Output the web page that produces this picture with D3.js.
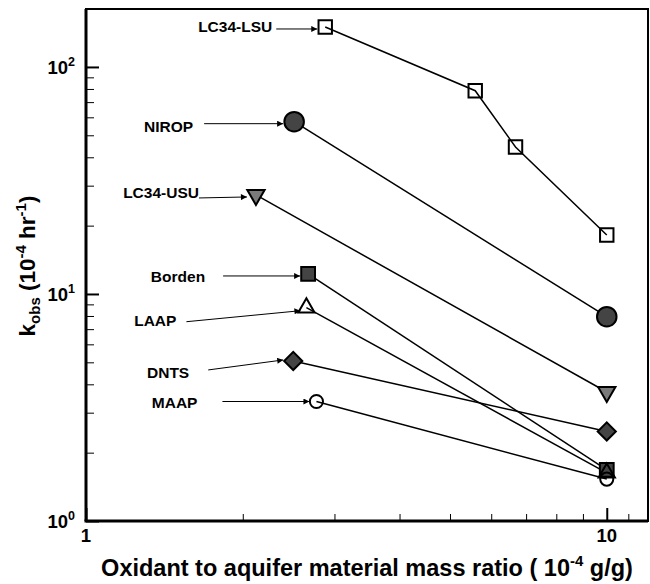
<!DOCTYPE html>
<html>
<head>
<meta charset="utf-8">
<script src="https://cdn.jsdelivr.net/npm/d3@7"></script>
<style>
  body { margin: 0; background: #fff; }
  text { font-family: "Liberation Sans", Arial, sans-serif; font-weight: bold; }
</style>
</head>
<body>
<svg id="chart" width="650" height="584"></svg>
<script>
// data (x: oxidant/aquifer mass ratio, y: kobs)
var sites = ["LC34-LSU", "NIROP", "LC34-USU", "Borden", "LAAP", "DNTS", "MAAP"]
var lsuX = [2.88, 5.59, 6.68, 10], lsuY = [150, 78.6, 44.4, 18.2]
var niropX = [2.51, 10], niropY = [57.4, 7.94]
var usuX = [2.12, 10], usuY = [27.3, 3.7]
var bordenX = [2.67, 10], bordenY = [12.25, 1.68]
var laapX = [2.65, 10], laapY = [8.7, 1.63]
var dntsX = [2.5, 10], dntsY = [5.07, 2.48]
var maapX = [2.77, 10], maapY = [3.36, 1.53]

var xMajor = [1, 10], xMinor = [2, 3, 4, 5, 6, 7, 8, 9, 11]
var yMajor = [1, 10, 100], yMinor = [2, 3, 4, 5, 6, 7, 8, 9, 20, 30, 40, 50, 60, 70, 80, 90]

var series = [
  {name: sites[0], x: lsuX, y: lsuY},
  {name: sites[1], x: niropX, y: niropY},
  {name: sites[2], x: usuX, y: usuY},
  {name: sites[3], x: bordenX, y: bordenY},
  {name: sites[4], x: laapX, y: laapY},
  {name: sites[5], x: dntsX, y: dntsY},
  {name: sites[6], x: maapX, y: maapY}
]

// marker style per site
var markStyle = {
  "LC34-LSU": {type: d3.symbolSquare, size: 180, fill: "none", rot: 0},
  "NIROP":    {type: d3.symbolCircle, size: 300, fill: "#444", rot: 0},
  "LC34-USU": {type: d3.symbolTriangle, size: 130, fill: "#7a7a7a", rot: 180},
  "Borden":   {type: d3.symbolSquare, size: 190, fill: "#444", rot: 0},
  "LAAP":     {type: d3.symbolTriangle, size: 115, fill: "none", rot: 0},
  "DNTS":     {type: d3.symbolSquare, size: 165, fill: "#444", rot: 45},
  "MAAP":     {type: d3.symbolCircle, size: 135, fill: "none", rot: 0}
}

// label placement, pixel offsets from the first point of each site
var labelPos = {
  "LC34-LSU": {tx: -53, ty: 5,  ax: -49, ay: 2,  bx: -8,  by: 2},
  "NIROP":    {tx: -101, ty: 10, ax: -90, ay: 2,  bx: -11, by: 2},
  "LC34-USU": {tx: -57, ty: 3,  ax: -57, ay: 3,  bx: -9,  by: 2},
  "Borden":   {tx: -103, ty: 8, ax: -85, ay: 2,  bx: -8,  by: 2},
  "LAAP":     {tx: -130, ty: 18, ax: -120, ay: 14, bx: -6, by: 3},
  "DNTS":     {tx: -104, ty: 17, ax: -85, ay: 9,  bx: -10, by: -1},
  "MAAP":     {tx: -119, ty: 6, ax: -94, ay: 0,  bx: -7,  by: 0}
}

var svg = d3.select("#chart")
var margin = {top: 9, right: 2, bottom: 63, left: 86}
var width = 650 - margin.left - margin.right
var height = 584 - margin.top - margin.bottom

var x = d3.scaleLog().domain([1, 12]).range([0, width])
var y = d3.scaleLog().domain([1, 180]).range([height, 0])

var g = svg.append("g").attr("transform", "translate(" + margin.left + "," + margin.top + ")")

// arrow head
svg.append("defs").append("marker")
    .attr("id", "arrow")
    .attr("viewBox", "0 0 10 10")
    .attr("refX", 10).attr("refY", 5)
    .attr("markerWidth", 12).attr("markerHeight", 6)
    .attr("markerUnits", "userSpaceOnUse")
    .attr("orient", "auto")
  .append("path")
    .attr("d", "M0,0 L10,5 L0,10 z")
    .attr("fill", "#000")

// frame
g.append("rect")
    .attr("width", width).attr("height", height)
    .attr("fill", "none").attr("stroke", "#000").attr("stroke-width", 2)

// ticks point inward
function tickAxis(axis, vals, len, sw) {
  var a = g.append("g").call(axis.tickValues(vals).tickSize(-len).tickFormat(""))
  a.select(".domain").remove()
  a.selectAll("line").attr("stroke-width", sw)
  return a
}
tickAxis(d3.axisLeft(y), yMajor, 13, 2)
tickAxis(d3.axisLeft(y), yMinor, 8, 1)
tickAxis(d3.axisBottom(x), xMajor, 13, 2).attr("transform", "translate(0," + height + ")")
tickAxis(d3.axisBottom(x), xMinor, 7, 1).attr("transform", "translate(0," + height + ")")

// heavy left and bottom axis lines
g.append("line").attr("x1", 0).attr("x2", 0).attr("y1", 0).attr("y2", height)
    .attr("stroke", "#000").attr("stroke-width", 3)
g.append("line").attr("x1", -1.5).attr("x2", width).attr("y1", height).attr("y2", height)
    .attr("stroke", "#000").attr("stroke-width", 3)

// y tick labels 10^n
g.selectAll(".ylab")
  .data(yMajor)
  .enter()
  .append("text")
    .attr("class", "ylab")
    .attr("x", -11)
    .attr("y", function(d){ return y(d) + 7 })
    .attr("text-anchor", "end")
    .style("font-size", "18.5px")
    .each(function(d){
      var t = d3.select(this)
      t.append("tspan").text("10")
      t.append("tspan").attr("dy", -8).style("font-size", "12.5px").text(Math.round(Math.log10(d)))
    })

// x tick labels
g.selectAll(".xlab")
  .data(xMajor)
  .enter()
  .append("text")
    .attr("x", function(d){ return x(d) })
    .attr("y", height + 21)
    .attr("text-anchor", "middle")
    .style("font-size", "18.5px")
    .text(function(d){ return d })

// axis titles
var xt = svg.append("text")
    .attr("x", 367).attr("y", 576)
    .attr("text-anchor", "middle")
    .style("font-size", "23.5px")
xt.append("tspan").text("Oxidant to aquifer material mass ratio ( 10")
xt.append("tspan").attr("dy", -10).style("font-size", "15px").text("-4")
xt.append("tspan").attr("dy", 10).text(" g/g)")

var yt = svg.append("text")
    .attr("transform", "translate(35,266) rotate(-90)")
    .attr("text-anchor", "middle")
    .style("font-size", "22.5px")
yt.append("tspan").text("k")
yt.append("tspan").attr("dy", 5).style("font-size", "15px").text("obs")
yt.append("tspan").attr("dy", -5).text(" (10")
yt.append("tspan").attr("dy", -9).style("font-size", "15px").text("-4")
yt.append("tspan").attr("dy", 9).text(" hr")
yt.append("tspan").attr("dy", -9).style("font-size", "15px").text("-1")
yt.append("tspan").attr("dy", 9).text(")")

// lines
var line = d3.line()
  .x(function(d){ return x(d[0]) })
  .y(function(d){ return y(d[1]) })

g.selectAll(".series")
  .data(series)
  .enter()
  .append("path")
    .attr("d", function(s){ return line(d3.zip(s.x, s.y)) })
    .attr("fill", "none")
    .attr("stroke", "#000")
    .attr("stroke-width", 1.5)

// markers
series.forEach(function(s){
  var m = markStyle[s.name]
  g.selectAll(null)
    .data(d3.zip(s.x, s.y))
    .enter()
    .append("path")
      .attr("d", d3.symbol().type(m.type).size(m.size))
      .attr("transform", function(d){ return "translate(" + x(d[0]) + "," + y(d[1]) + ") rotate(" + m.rot + ")" })
      .attr("fill", m.fill)
      .attr("stroke", "#000")
      .attr("stroke-width", 2)
})

// labels with arrows
series.forEach(function(s){
  var p = labelPos[s.name]
  var px = x(s.x[0]), py = y(s.y[0])
  g.append("text")
    .attr("x", px + p.tx).attr("y", py + p.ty)
    .attr("text-anchor", "end")
    .style("font-size", "15.5px")
    .text(s.name)
  g.append("line")
    .attr("x1", px + p.ax).attr("y1", py + p.ay)
    .attr("x2", px + p.bx).attr("y2", py + p.by)
    .attr("stroke", "#000").attr("stroke-width", 1)
    .attr("marker-end", "url(#arrow)")
})
</script>
</body>
</html>
